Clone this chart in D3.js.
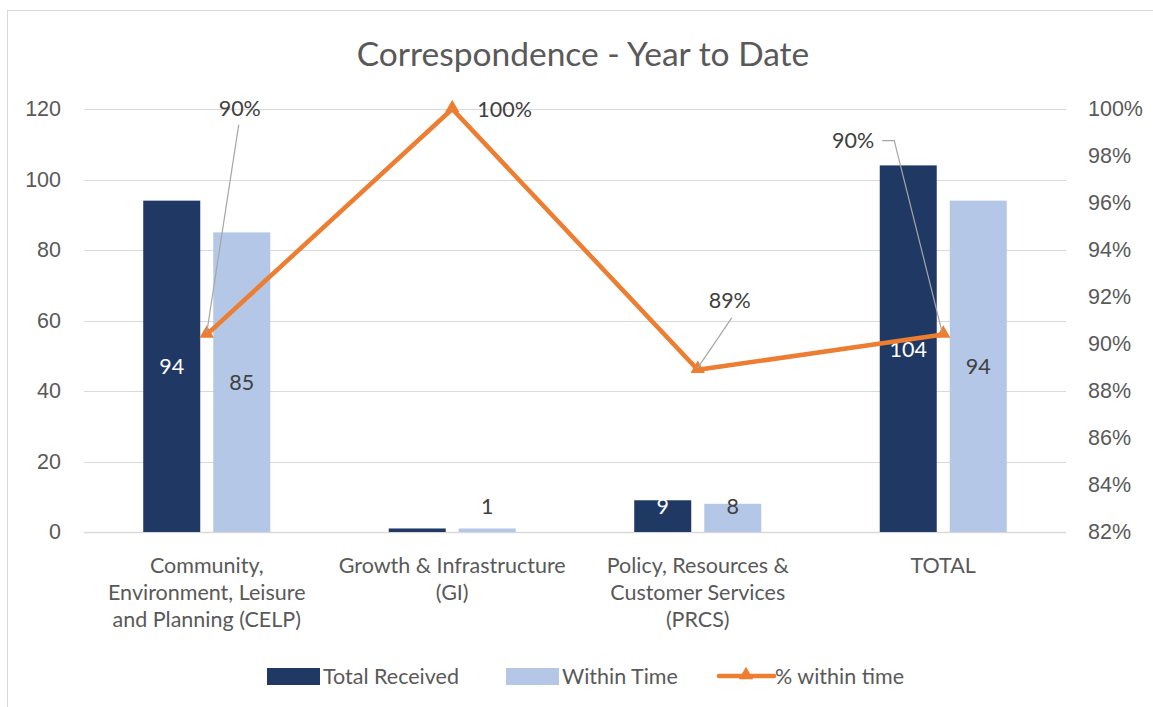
<!DOCTYPE html>
<html>
<head>
<meta charset="utf-8">
<style>
  body { margin: 0; background: #fff; }
  svg { display: block; font-family: Lato, "Open Sans", sans-serif; }
</style>
</head>
<body>
<svg width="1153" height="707"></svg>
<script src="https://d3js.org/d3.v7.min.js"></script>
<script>
// data
var categories = [
    ["Community,", "Environment, Leisure", "and Planning (CELP)"],
    ["Growth & Infrastructure", "(GI)"],
    ["Policy, Resources &", "Customer Services", "(PRCS)"],
    ["TOTAL"]
];
var totalReceived = [94, 1, 9, 104];
var withinTime = [85, 1, 8, 94];
var pctWithin = [0.904, 1.0, 0.889, 0.904];
var pctLabels = ["90%", "100%", "89%", "90%"];
var leftTicks = [0, 20, 40, 60, 80, 100, 120];
var rightTicks = [0.82, 0.84, 0.86, 0.88, 0.90, 0.92, 0.94, 0.96, 0.98, 1.0];

var svg = d3.select("svg"),
    width = +svg.attr("width"),
    height = +svg.attr("height");

var dark = "#203864", light = "#b4c7e7", orange = "#ed7d31",
    grid = "#d9d9d9", axisText = "#595959", labelText = "#404040";
var fs = 21.5;

// chart border (right/bottom edges fall outside the picture)
svg.append("rect")
    .attr("x", 7.5).attr("y", 10.5)
    .attr("width", 1160).attr("height", 720)
    .attr("fill", "none").attr("stroke", grid);

svg.append("text")
    .attr("x", 583).attr("y", 66)
    .attr("text-anchor", "middle")
    .attr("fill", axisText)
    .attr("font-size", 33.5)
    .text("Correspondence - Year to Date");

var idx = d3.range(categories.length);

var x = d3.scaleBand().domain(idx).range([84, 1066]);
var x1 = d3.scaleBand().domain(["tr", "wt"])
    .range([0, x.bandwidth()])
    .paddingInner(0.186).paddingOuter(0.846);

var y = d3.scaleLinear().domain([0, 120]).range([532, 109]);
var y2 = d3.scaleLinear().domain([0.82, 1.0]).range([532, 109]);

// gridlines
svg.append("g")
    .selectAll("line")
    .data(leftTicks)
    .join("line")
    .attr("x1", 84).attr("x2", 1066)
    .attr("y1", function(d) { return Math.round(y(d)) + 0.5; })
    .attr("y2", function(d) { return Math.round(y(d)) + 0.5; })
    .attr("stroke", grid)
    .attr("stroke-width", function(d) { return d == 0 ? 1.5 : 1; });

// left axis
var gl = svg.append("g")
    .attr("transform", "translate(68,0)")
    .call(d3.axisLeft(y).tickValues(leftTicks).tickSize(0).tickPadding(7));
gl.select(".domain").remove();
gl.selectAll("text").attr("font-size", fs).attr("fill", axisText).attr("font-family", null);

// right axis
var gr = svg.append("g")
    .attr("transform", "translate(1080,0)")
    .call(d3.axisRight(y2).tickValues(rightTicks).tickSize(0).tickPadding(8)
        .tickFormat(d3.format(".0%")));
gr.select(".domain").remove();
gr.selectAll("text").attr("font-size", fs).attr("fill", axisText).attr("font-family", null);

// category labels
var cat = svg.append("g").selectAll("text")
    .data(idx)
    .join("text")
    .attr("x", function(i) { return x(i) + x.bandwidth() / 2; })
    .attr("y", 573)
    .attr("text-anchor", "middle")
    .attr("font-size", fs)
    .attr("fill", axisText);
cat.selectAll("tspan")
    .data(function(i) { return categories[i]; })
    .join("tspan")
    .attr("x", function() { return d3.select(this.parentNode).attr("x"); })
    .attr("dy", function(d, j) { return j == 0 ? 0 : 27; })
    .text(function(d) { return d; });

// bars
var series = [
    { key: "tr", values: totalReceived, fill: dark, text: "#fff" },
    { key: "wt", values: withinTime, fill: light, text: labelText }
];

series.forEach(function(s) {
    svg.append("g").selectAll("rect")
        .data(idx)
        .join("rect")
        .attr("x", function(i) { return x(i) + x1(s.key); })
        .attr("y", function(i) { return y(s.values[i]); })
        .attr("width", x1.bandwidth())
        .attr("height", function(i) { return y(0) - y(s.values[i]); })
        .attr("fill", s.fill);
});

// bar labels
series.forEach(function(s) {
    svg.append("g").selectAll("text")
        .data(idx.filter(function(i) { return !(s.key == "tr" && s.values[i] < 2); }))
        .join("text")
        .attr("x", function(i) { return x(i) + x1(s.key) + x1.bandwidth() / 2; })
        .attr("y", function(i) {
            var c = (y(s.values[i]) + y(0)) / 2;
            return Math.min(c, y(0) - 26) + 8;
        })
        .attr("text-anchor", "middle")
        .attr("font-size", fs)
        .attr("fill", s.text)
        .text(function(i) { return s.values[i]; });
});

// % line
var cx = function(i) { return x(i) + x.bandwidth() / 2; };
svg.append("path")
    .datum(idx)
    .attr("fill", "none")
    .attr("stroke", orange)
    .attr("stroke-width", 4.5)
    .attr("stroke-linejoin", "miter")
    .attr("d", d3.line().x(cx).y(function(i) { return y2(pctWithin[i]); }));

var tri = d3.symbol().type(d3.symbolTriangle).size(90);
svg.append("g").selectAll("path")
    .data(idx)
    .join("path")
    .attr("transform", function(i) { return "translate(" + cx(i) + "," + (y2(pctWithin[i]) - 1) + ")"; })
    .attr("d", tri)
    .attr("fill", orange);

// % labels with leader lines
var labelPos = [
    { dx: 33, dy: -219, anchor: "middle", leader: [[32, -210], [0, -2]] },
    { dx: 25, dy: 8, anchor: "start", leader: null },
    { dx: 32, dy: -62, anchor: "middle", leader: [[34, -52], [0, -2]] },
    { dx: -69, dy: -187, anchor: "end", leader: [[-61, -194], [-49, -194], [-1, -2]] }
];

svg.append("g").selectAll("path")
    .data(idx.filter(function(i) { return labelPos[i].leader; }))
    .join("path")
    .attr("fill", "none")
    .attr("stroke", "#a6a6a6")
    .attr("stroke-width", 1.2)
    .attr("d", function(i) {
        var px = cx(i), py = y2(pctWithin[i]);
        return d3.line()(labelPos[i].leader.map(function(p) { return [px + p[0], py + p[1]]; }));
    });

svg.append("g").selectAll("text")
    .data(idx)
    .join("text")
    .attr("x", function(i) { return cx(i) + labelPos[i].dx; })
    .attr("y", function(i) { return y2(pctWithin[i]) + labelPos[i].dy; })
    .attr("text-anchor", function(i) { return labelPos[i].anchor; })
    .attr("font-size", fs)
    .attr("fill", labelText)
    .text(function(i) { return pctLabels[i]; });

// legend
var legend = svg.append("g").attr("transform", "translate(0,676)");
legend.append("rect").attr("x", 267).attr("y", -8).attr("width", 53).attr("height", 17).attr("fill", dark);
legend.append("text").attr("x", 323).attr("y", 8).attr("font-size", fs).attr("fill", axisText).text("Total Received");
legend.append("rect").attr("x", 506).attr("y", -8).attr("width", 53).attr("height", 17).attr("fill", light);
legend.append("text").attr("x", 562).attr("y", 8).attr("font-size", fs).attr("fill", axisText).text("Within Time");
legend.append("line").attr("x1", 719).attr("x2", 774).attr("y1", 0).attr("y2", 0)
    .attr("stroke", orange).attr("stroke-width", 4.5).attr("stroke-linecap", "round");
legend.append("path").attr("transform", "translate(746,-1)").attr("d", tri).attr("fill", orange);
legend.append("text").attr("x", 775).attr("y", 8).attr("font-size", fs).attr("fill", axisText).text("% within time");
</script>
</body>
</html>
